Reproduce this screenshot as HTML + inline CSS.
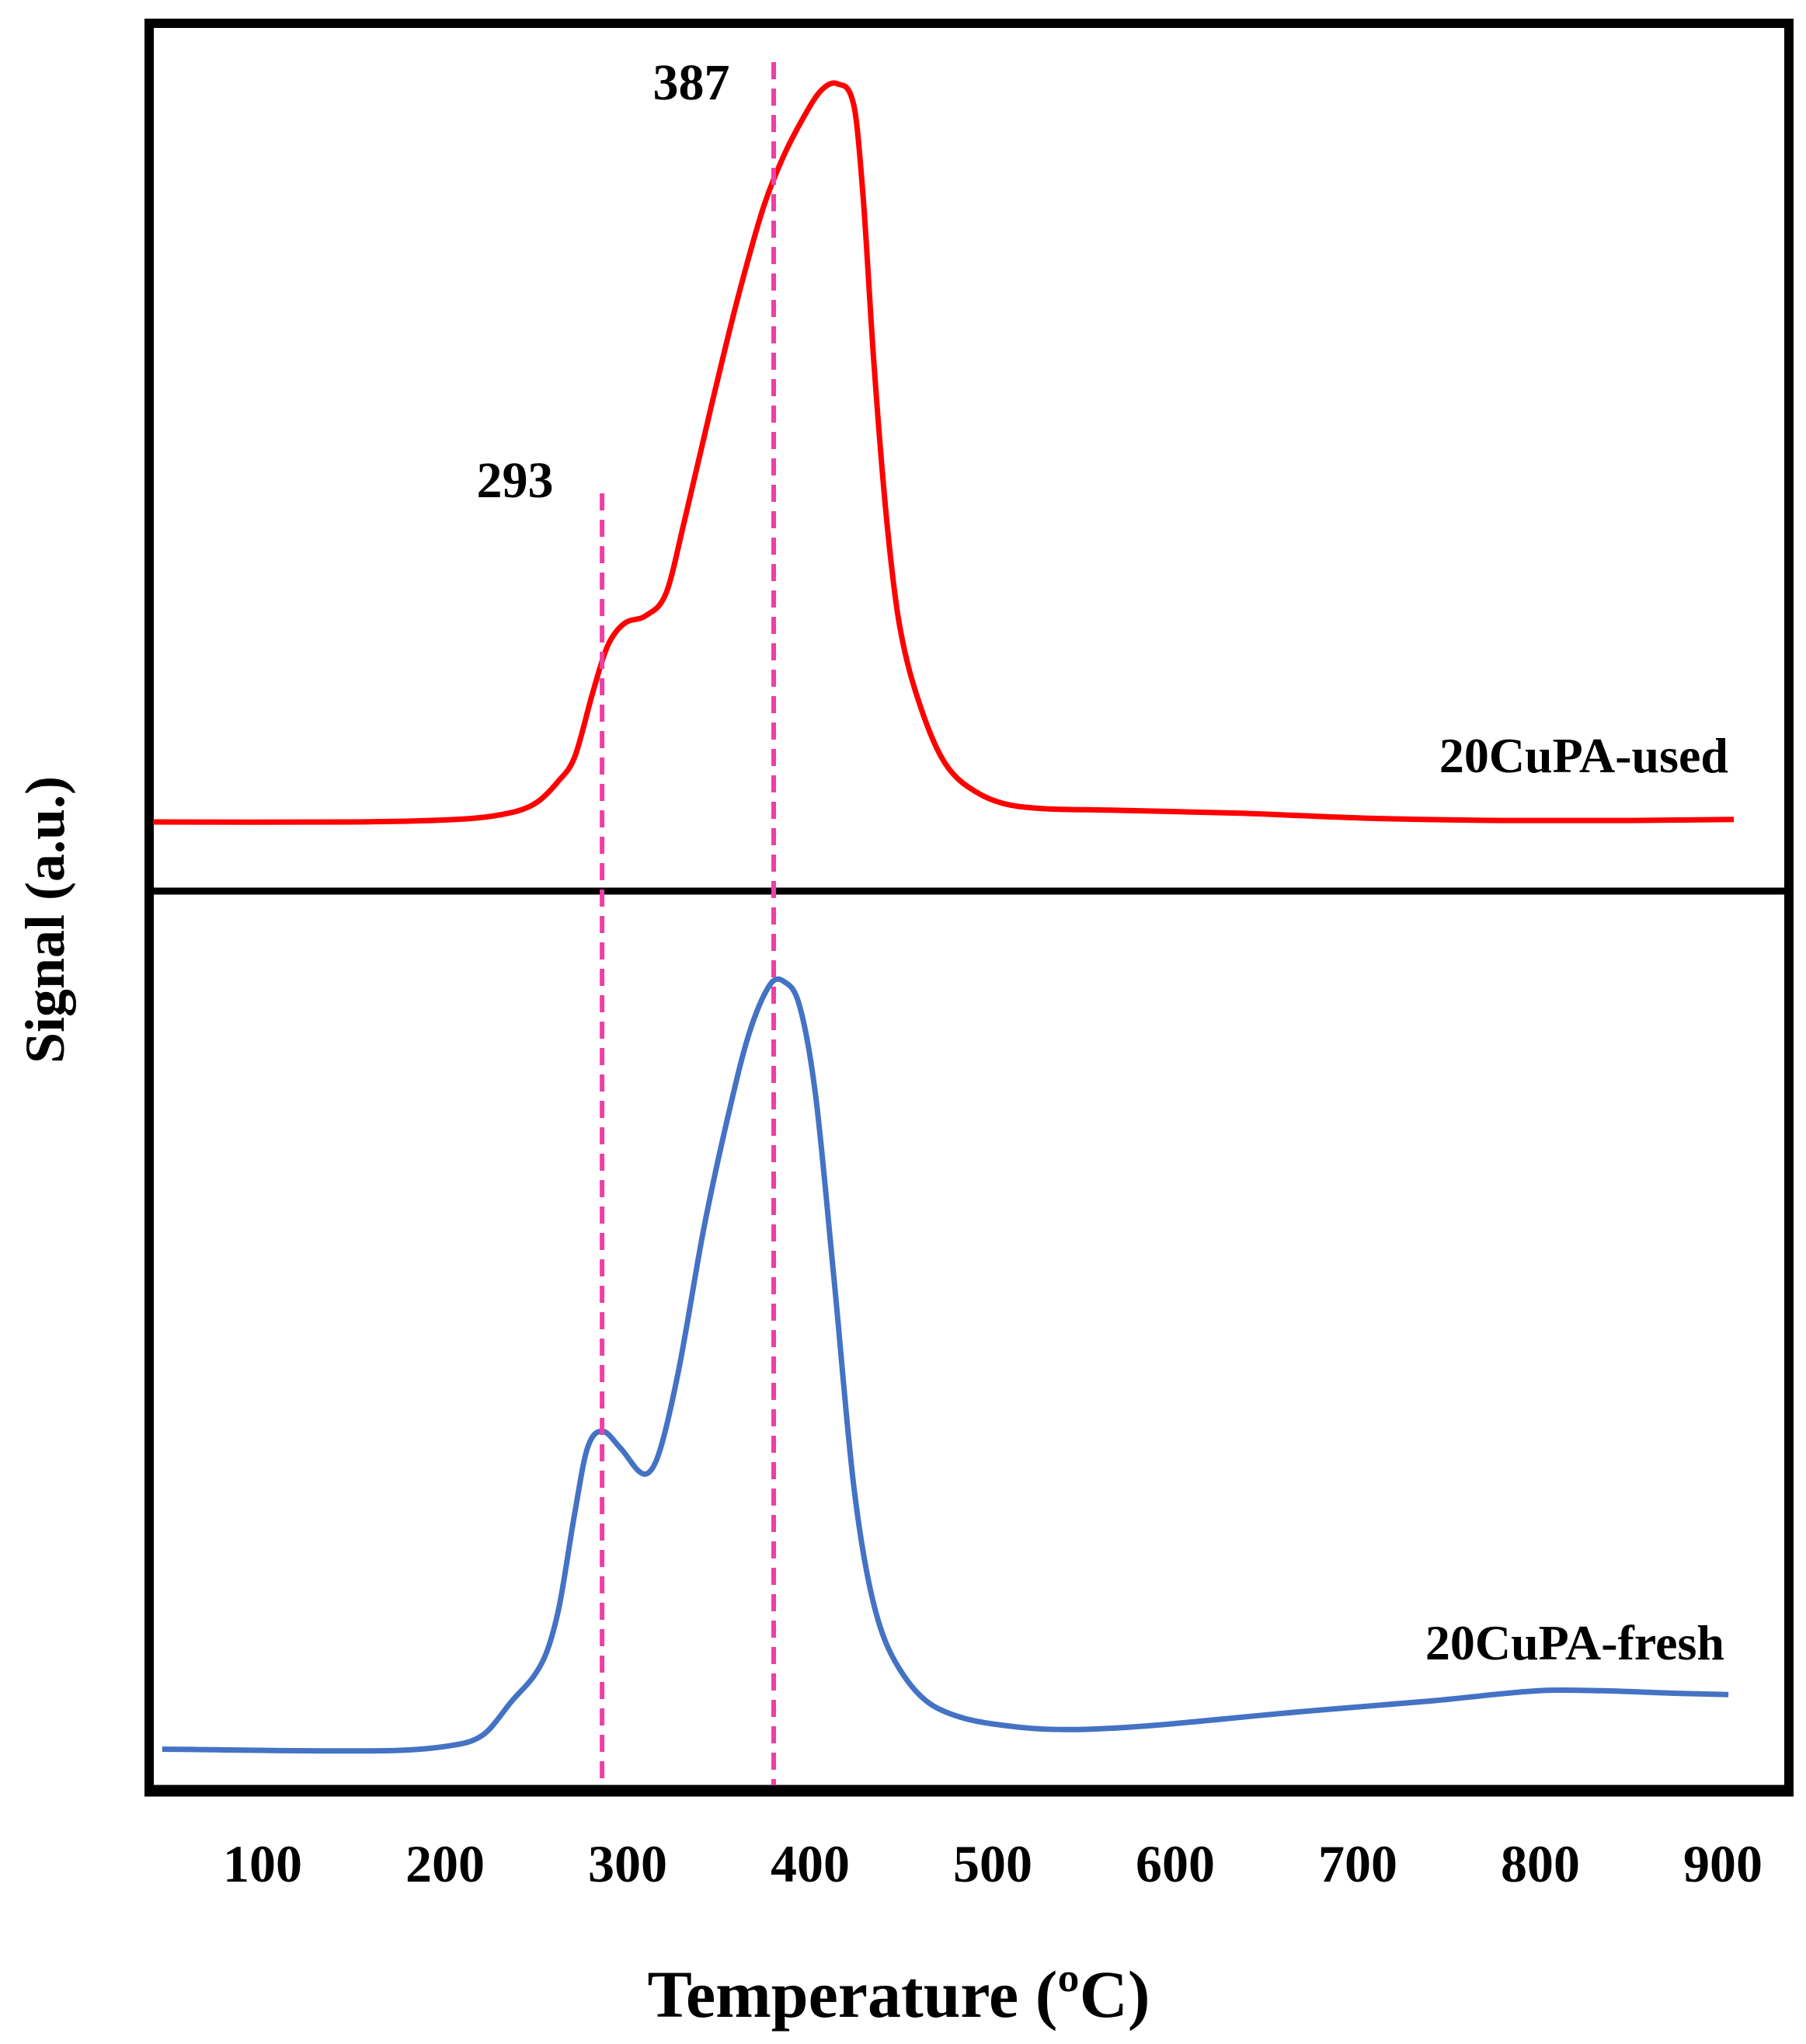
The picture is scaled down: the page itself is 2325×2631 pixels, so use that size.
<!DOCTYPE html>
<html><head><meta charset="utf-8"><style>
html,body{margin:0;padding:0;background:#fff;}
svg{display:block;}
text{font-family:"Liberation Serif",serif;font-weight:bold;fill:#000;}
</style></head><body>
<svg id="chart" width="2325" height="2631" viewBox="0 0 2325 2631" xmlns="http://www.w3.org/2000/svg">
<g id="frame">
<rect x="192" y="30" width="2111" height="2274" fill="none" stroke="#000" stroke-width="12"/>
<line x1="186" y1="1147" x2="2309" y2="1147" stroke="#000" stroke-width="9"/>
<line x1="186" y1="2305" x2="2309" y2="2305" stroke="#000" stroke-width="15"/>
</g>
<g id="marks"></g>
<g id="ticks"></g>
<text x="890" y="128" font-size="66" text-anchor="middle">387</text>
<text x="663" y="640" font-size="66" text-anchor="middle">293</text>
<text x="2225" y="994" font-size="64" text-anchor="end">20CuPA-used</text>
<text x="2220" y="2136" font-size="64" text-anchor="end">20CuPA-fresh</text>
<text x="1157" y="2596" font-size="86" text-anchor="middle">Temperature (ºC)</text>
<text x="0" y="0" font-size="72" text-anchor="middle" transform="translate(82,1184) rotate(-90)">Signal (a.u.)</text>
</svg>
<script>
const xTicks=[100,200,300,400,500,600,700,800,900];
const usedT=[40,150,210,235,250,262,271,281,289,298,310,321,331,346,360,374,385,396,406,415,424,429,435,442,449,460,474,492,514,564,634,706,778,849,906];
const usedV=[0,0,0.4,1.2,2.6,5.5,8.8,17.6,23.8,26.8,27.9,30.9,40.6,56.4,70.5,82.8,89.8,95.1,98.9,99.8,96.8,84.5,61.7,40.6,26.5,15.9,7.9,3.9,2.1,1.6,1.2,0.5,0.2,0.2,0.35];
const freshT=[45,168,204,221,236,253,262,271,278,286,296,309,317,328,342,356,367,378,385,394,403,413,424,435,449,470,513,563,670,741,799,834,870,903];
const freshV=[0,-0.2,0.5,1.9,6.1,11.2,18,30.7,39.2,41.4,39.2,35.8,38.4,49.4,68.1,83.4,93.5,99.5,100,96.9,85,61.3,34,18.7,10.4,5.3,2.9,2.7,4.9,6.3,7.6,7.6,7.3,7.1];
const peakLines=[286,380];
const NS="http://www.w3.org/2000/svg";
function xs(t){return 338+(t-100)*2.35;}
function yUsed(v){return 1058-v*9.52;}
function yFresh(v){return 2251.5-v*9.89;}
function smooth(pts){
  let d="M"+pts[0][0].toFixed(1)+","+pts[0][1].toFixed(1);
  for(let i=0;i<pts.length-1;i++){
    const p0=pts[i-1]||pts[i],p1=pts[i],p2=pts[i+1],p3=pts[i+2]||p2;
    const h=p2[0]-p1[0];
    const m1=(p2[1]-p0[1])/((p2[0]-p0[0])||1), m2=(p3[1]-p1[1])/((p3[0]-p1[0])||1);
    const c1=[p1[0]+h/3,p1[1]+m1*h/3];
    const c2=[p2[0]-h/3,p2[1]-m2*h/3];
    d+="C"+c1[0].toFixed(1)+","+c1[1].toFixed(1)+" "+c2[0].toFixed(1)+","+c2[1].toFixed(1)+" "+p2[0].toFixed(1)+","+p2[1].toFixed(1);
  }
  return d;
}
const marks=document.getElementById("marks");
const ticks=document.getElementById("ticks");
const usedPath=document.createElementNS(NS,"path");
usedPath.setAttribute("d",smooth(usedT.map((t,i)=>[xs(t),yUsed(usedV[i])])));
usedPath.setAttribute("fill","none");usedPath.setAttribute("stroke","#ff0000");usedPath.setAttribute("stroke-width","7");


marks.appendChild(usedPath);
const freshPath=document.createElementNS(NS,"path");
freshPath.setAttribute("d",smooth(freshT.map((t,i)=>[xs(t),yFresh(freshV[i])])));
freshPath.setAttribute("fill","none");freshPath.setAttribute("stroke","#4472c4");freshPath.setAttribute("stroke-width","7");


marks.appendChild(freshPath);
const tops=[635,80];
peakLines.forEach((t,i)=>{
  const l=document.createElementNS(NS,"line");
  l.setAttribute("x1",xs(t));l.setAttribute("x2",xs(t));
  l.setAttribute("y1",tops[i]);l.setAttribute("y2",2298);
  l.setAttribute("stroke","#ee3fa6");l.setAttribute("stroke-width","6");l.setAttribute("stroke-dasharray","22 12");
  
  
  marks.appendChild(l);
});
xTicks.forEach(t=>{
  const tx=document.createElementNS(NS,"text");
  tx.setAttribute("x",xs(t));tx.setAttribute("y",2422);tx.setAttribute("font-size","68");tx.setAttribute("text-anchor","middle");
  tx.textContent=t;
  
  
  ticks.appendChild(tx);
});
</script>
</body></html>
